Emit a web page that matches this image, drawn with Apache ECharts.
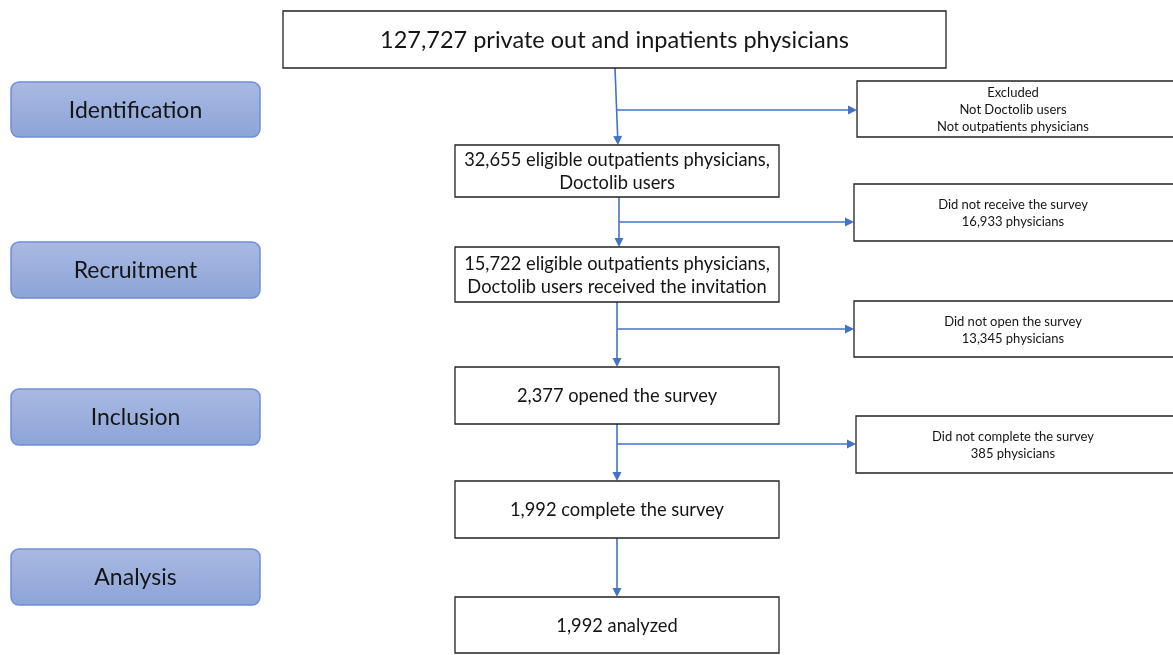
<!DOCTYPE html>
<html><head><meta charset="utf-8">
<script src="https://cdn.jsdelivr.net/npm/echarts@6/dist/echarts.min.js"></script>
<style>html,body{margin:0;padding:0;background:#fff}#c{width:1173px;height:655px}</style>
</head><body><div id="c"></div>
<script>
// ---- data ----
const stages = ['Identification', 'Recruitment', 'Inclusion', 'Analysis'];
const mainSteps = [
  '127,727 private out and inpatients physicians',
  '32,655 eligible outpatients physicians,\nDoctolib users',
  '15,722 eligible outpatients physicians,\nDoctolib users received the invitation',
  '2,377 opened the survey',
  '1,992 complete the survey',
  '1,992 analyzed'
];
const exclusions = [
  'Excluded\nNot Doctolib users\nNot outpatients physicians',
  'Did not receive the survey\n16,933 physicians',
  'Did not open the survey\n13,345 physicians',
  'Did not complete the survey\n385 physicians'
];

// ---- layout (diagram coordinates) ----
const stageBoxes = [[11,82,260,137],[11,242,260,298],[11,389,260,445],[11,549,260,605]];
const mainBoxes = [[283,11,946,68],[455,145,779,197],[455,247,779,302],[455,367,779,424],[455,481,779,538],[455,597,779,653]];
const exclBoxes = [[857,81,1185,137],[854,184,1185,241],[854,301,1185,357],[856,416,1185,473]];
const downArrows = [[615,68,618,145],[619,197,619,247],[617,302,617,367],[617,424,617,481],[617,538,617,597]];
const sideArrows = [[617,110,857,110],[619,222,854,222],[617,329,854,329],[617,444,856,444]];

const FONT = 'Lato, "Open Sans", sans-serif';
const BLUE = '#4472c4';

function boxRender(boxes, texts, kind) {
  return function (params, api) {
    const i = params.dataIndex;
    const b = boxes[i];
    const p0 = api.coord([b[0], b[1]]);
    const p1 = api.coord([b[2], b[3]]);
    const x = Math.min(p0[0], p1[0]), y = Math.min(p0[1], p1[1]);
    const w = Math.abs(p1[0] - p0[0]), h = Math.abs(p1[1] - p0[1]);
    let rectStyle, textStyle, r = 0;
    if (kind === 'stage') {
      r = 8;
      rectStyle = {
        fill: new echarts.graphic.LinearGradient(0, 0, 0, 1, [
          { offset: 0, color: '#aab9e2' }, { offset: 1, color: '#8ca4d8' }
        ]),
        stroke: '#6f8fd2', lineWidth: 1.5
      };
      textStyle = { fontSize: 23, fill: '#151515', fontFamily: FONT };
    } else if (kind === 'main') {
      rectStyle = { fill: '#fff', stroke: '#222', lineWidth: 1.3 };
      textStyle = { fontSize: i === 0 ? 23.5 : 18.3, lineHeight: 23, fill: '#151515', fontFamily: FONT };
    } else {
      rectStyle = { fill: '#fff', stroke: '#222', lineWidth: 1.3 };
      textStyle = { fontSize: 13, lineHeight: 17, fill: '#151515', fontFamily: FONT };
    }
    const tcx = kind === 'excl' ? x + (1013 - b[0]) : x + w / 2;
    return {
      type: 'group',
      children: [
        { type: 'rect', shape: { x: x, y: y, width: w, height: h, r: r }, style: rectStyle },
        { type: 'text', style: Object.assign({ text: texts[i], x: tcx, y: y + h / 2 + 1, align: 'center', verticalAlign: 'middle' }, textStyle) }
      ]
    };
  };
}

function arrowRender(arrows) {
  return function (params, api) {
    const a = arrows[params.dataIndex];
    const p0 = api.coord([a[0], a[1]]);
    const p1 = api.coord([a[2], a[3]]);
    const dx = p1[0] - p0[0], dy = p1[1] - p0[1];
    const len = Math.sqrt(dx * dx + dy * dy);
    const ux = dx / len, uy = dy / len;
    const hl = 9, hw = 4.5;
    const bx = p1[0] - ux * hl, by = p1[1] - uy * hl;
    return {
      type: 'group',
      children: [
        { type: 'line', shape: { x1: p0[0], y1: p0[1], x2: bx, y2: by }, style: { stroke: BLUE, lineWidth: 1.6 } },
        { type: 'polygon', shape: { points: [[p1[0], p1[1]], [bx - uy * hw, by + ux * hw], [bx + uy * hw, by - ux * hw]] }, style: { fill: BLUE } }
      ]
    };
  };
}

const chart = echarts.init(document.getElementById('c'), null, { renderer: 'canvas' });
chart.setOption({
  backgroundColor: '#fff',
  animation: false,
  grid: { left: 0, right: 0, top: 0, bottom: 0 },
  xAxis: { type: 'value', min: 0, max: 1173, show: false },
  yAxis: { type: 'value', min: 0, max: 655, inverse: true, show: false },
  series: [
    { type: 'custom', clip: false, renderItem: arrowRender(downArrows), data: downArrows.map((d, i) => [i]) },
    { type: 'custom', clip: false, renderItem: arrowRender(sideArrows), data: sideArrows.map((d, i) => [i]) },
    { type: 'custom', clip: false, renderItem: boxRender(stageBoxes, stages, 'stage'), data: stages.map((d, i) => [i]) },
    { type: 'custom', clip: false, renderItem: boxRender(mainBoxes, mainSteps, 'main'), data: mainSteps.map((d, i) => [i]) },
    { type: 'custom', clip: false, renderItem: boxRender(exclBoxes, exclusions, 'excl'), data: exclusions.map((d, i) => [i]) }
  ]
});
</script></body></html>
